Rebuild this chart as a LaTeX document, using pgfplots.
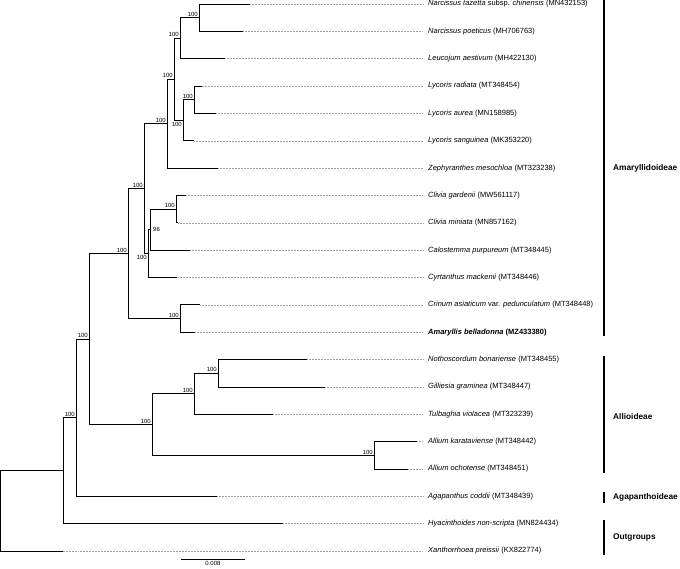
\documentclass[border=0pt]{standalone}
\usepackage{fontspec}
\setmainfont{Liberation Sans}
\usepackage{pgfplots}
\pgfplotsset{compat=1.18}
\begin{document}
\begin{tikzpicture}
\pgfplotsset{tree/.style={black, line width=0.8pt, line join=miter, mark=none},
  dots/.style={gray!75, line width=0.45pt, dash pattern=on 0.6pt off 0.9pt, mark=none},
  clade/.style={black, line width=1.3pt, mark=none}}
\begin{axis}[scale only axis, width=680pt, height=568pt,
  xmin=0, xmax=0.085, ymin=0.8537, ymax=21.622, y dir=reverse,
  hide axis, clip=false]
% ---- tree (each internal node: child1 -- node -- node -- child2)
\addplot[tree] coordinates {(0.03125,1) (0.024875,1) (0.024875,2) (0.030375,2)};          % Narcissus
\addplot[tree] coordinates {(0.024875,1.5) (0.0225,1.5) (0.0225,3) (0.028125,3)};        % + Leucojum
\addplot[tree] coordinates {(0.0252,4) (0.02425,4) (0.02425,5) (0.027,5)};               % radiata+aurea
\addplot[tree] coordinates {(0.02425,4.5) (0.022875,4.5) (0.022875,6) (0.02425,6)};      % + sanguinea
\addplot[tree] coordinates {(0.0225,2.25) (0.02175,2.25) (0.02175,5.25) (0.022875,5.25)};
\addplot[tree] coordinates {(0.02175,3.75) (0.020875,3.75) (0.020875,7) (0.02725,7)};    % + Zephyranthes
\addplot[tree] coordinates {(0.02325,8) (0.022,8) (0.022,9) (0.0223,9)};                 % Clivia
\addplot[tree] coordinates {(0.022,8.5) (0.01875,8.5) (0.01875,10) (0.02375,10)};        % + Calostemma
\addplot[tree] coordinates {(0.01875,9.25) (0.0185,9.25) (0.0185,11) (0.0221,11)};       % + Cyrtanthus
\addplot[tree] coordinates {(0.020875,5.375) (0.018,5.375) (0.018,10.125) (0.0185,10.125)};
\addplot[tree] coordinates {(0.025,12) (0.0225,12) (0.0225,13) (0.0244,13)};             % Crinum+Amaryllis
\addplot[tree] coordinates {(0.018,7.75) (0.016,7.75) (0.016,12.5) (0.0225,12.5)};
\addplot[tree] coordinates {(0.038375,14) (0.02725,14) (0.02725,15) (0.040625,15)};      % Noth+Gill
\addplot[tree] coordinates {(0.02725,14.5) (0.02425,14.5) (0.02425,16) (0.034125,16)};   % + Tulbaghia
\addplot[tree] coordinates {(0.052125,17) (0.04675,17) (0.04675,18) (0.051,18)};         % Allium
\addplot[tree] coordinates {(0.02425,15.25) (0.019,15.25) (0.019,17.5) (0.04675,17.5)};
\addplot[tree] coordinates {(0.016,10.125) (0.011125,10.125) (0.011125,16.375) (0.019,16.375)};
\addplot[tree] coordinates {(0.011125,13.25) (0.0095,13.25) (0.0095,19) (0.027125,19)};  % + Agapanthus
\addplot[tree] coordinates {(0.0095,16.125) (0.007875,16.125) (0.007875,20) (0.035375,20)}; % + Hyacinthoides
\addplot[tree] coordinates {(0.007875,18.0625) (0,18.0625) (0,21) (0.007875,21)};        % root + Xanthorrhoea
% ---- dotted leaders
\addplot[dots] coordinates {(0.03125,1) (0.052875,1)};
\addplot[dots] coordinates {(0.030375,2) (0.052875,2)};
\addplot[dots] coordinates {(0.028125,3) (0.052875,3)};
\addplot[dots] coordinates {(0.0252,4) (0.052875,4)};
\addplot[dots] coordinates {(0.027,5) (0.052875,5)};
\addplot[dots] coordinates {(0.02425,6) (0.052875,6)};
\addplot[dots] coordinates {(0.02725,7) (0.052875,7)};
\addplot[dots] coordinates {(0.02325,8) (0.052875,8)};
\addplot[dots] coordinates {(0.0223,9) (0.052875,9)};
\addplot[dots] coordinates {(0.02375,10) (0.052875,10)};
\addplot[dots] coordinates {(0.0221,11) (0.052875,11)};
\addplot[dots] coordinates {(0.025,12) (0.052875,12)};
\addplot[dots] coordinates {(0.0244,13) (0.052875,13)};
\addplot[dots] coordinates {(0.038375,14) (0.052875,14)};
\addplot[dots] coordinates {(0.040625,15) (0.052875,15)};
\addplot[dots] coordinates {(0.034125,16) (0.052875,16)};
\addplot[dots] coordinates {(0.052125,17) (0.052875,17)};
\addplot[dots] coordinates {(0.051,18) (0.052875,18)};
\addplot[dots] coordinates {(0.027125,19) (0.052875,19)};
\addplot[dots] coordinates {(0.035375,20) (0.052875,20)};
\addplot[dots] coordinates {(0.007875,21) (0.052875,21)};
% ---- clade bars
\addplot[clade] coordinates {(0.0755,0.86) (0.0755,13.14)};
\addplot[clade] coordinates {(0.0755,13.87) (0.0755,18.15)};
\addplot[clade] coordinates {(0.0755,18.84) (0.0755,19.24)};
\addplot[clade] coordinates {(0.0755,19.87) (0.0755,21.15)};
% ---- scale bar
\addplot[black, line width=0.8pt, mark=none] coordinates {(0.022625,21.29) (0.030625,21.29)};
% ---- taxon labels
\begin{scope}[every node/.style={anchor=west, inner sep=0pt, font=\fontsize{7.5}{9}\selectfont}]
\node at (axis cs:0.0535,1) {\textit{Narcissus tazetta} subsp. \textit{chinensis} (MN432153)};
\node at (axis cs:0.0535,2) {\textit{Narcissus poeticus} (MH706763)};
\node at (axis cs:0.0535,3) {\textit{Leucojum aestivum} (MH422130)};
\node at (axis cs:0.0535,4) {\textit{Lycoris radiata} (MT348454)};
\node at (axis cs:0.0535,5) {\textit{Lycoris aurea} (MN158985)};
\node at (axis cs:0.0535,6) {\textit{Lycoris sanguinea} (MK353220)};
\node at (axis cs:0.0535,7) {\textit{Zephyranthes mesochloa} (MT323238)};
\node at (axis cs:0.0535,8) {\textit{Clivia gardenii} (MW561117)};
\node at (axis cs:0.0535,9) {\textit{Clivia miniata} (MN857162)};
\node at (axis cs:0.0535,10) {\textit{Calostemma purpureum} (MT348445)};
\node at (axis cs:0.0535,11) {\textit{Cyrtanthus mackenii} (MT348446)};
\node at (axis cs:0.0535,12) {\textit{Crinum asiaticum} var. \textit{pedunculatum} (MT348448)};
\node at (axis cs:0.0535,13) {\textbf{\textit{Amaryllis belladonna} (MZ433380)}};
\node at (axis cs:0.0535,14) {\textit{Nothoscordum bonariense} (MT348455)};
\node at (axis cs:0.0535,15) {\textit{Gilliesia graminea} (MT348447)};
\node at (axis cs:0.0535,16) {\textit{Tulbaghia violacea} (MT323239)};
\node at (axis cs:0.0535,17) {\textit{Allium karataviense} (MT348442)};
\node at (axis cs:0.0535,18) {\textit{Allium ochotense} (MT348451)};
\node at (axis cs:0.0535,19) {\textit{Agapanthus coddii} (MT348439)};
\node at (axis cs:0.0535,20) {\textit{Hyacinthoides non-scripta} (MN824434)};
\node at (axis cs:0.0535,21) {\textit{Xanthorrhoea preissii} (KX822774)};
\end{scope}
% ---- clade labels
\begin{scope}[every node/.style={anchor=west, inner sep=0pt, font=\fontsize{8.3}{10}\selectfont\bfseries}]
\node at (axis cs:0.076625,7.0) {Amaryllidoideae};
\node at (axis cs:0.076625,16.1) {Allioideae};
\node at (axis cs:0.076625,19.03) {Agapanthoideae};
\node at (axis cs:0.076625,20.49) {Outgroups};
\end{scope}
% ---- bootstrap values
\begin{scope}[every node/.style={anchor=south east, inner sep=0pt, xshift=-1pt, yshift=1pt, font=\fontsize{6}{7}\selectfont}]
\node at (axis cs:0.024875,1.5) {100};
\node at (axis cs:0.0225,2.25) {100};
\node at (axis cs:0.02175,3.75) {100};
\node at (axis cs:0.02425,4.5) {100};
\node at (axis cs:0.020875,5.375) {100};
\node at (axis cs:0.018,7.75) {100};
\node at (axis cs:0.022,8.5) {100};
\node at (axis cs:0.016,10.125) {100};
\node at (axis cs:0.0225,12.5) {100};
\node at (axis cs:0.011125,13.25) {100};
\node at (axis cs:0.0095,16.125) {100};
\node at (axis cs:0.019,16.375) {100};
\node at (axis cs:0.02425,15.25) {100};
\node at (axis cs:0.02725,14.5) {100};
\node at (axis cs:0.04675,17.5) {100};
\end{scope}
\node[anchor=north east, inner sep=0pt, xshift=-1pt, yshift=-1.5pt, font=\fontsize{6}{7}\selectfont] at (axis cs:0.022875,5.25) {100};
\node[anchor=north east, inner sep=0pt, xshift=-1pt, yshift=-1.5pt, font=\fontsize{6}{7}\selectfont] at (axis cs:0.0185,10.125) {100};
\node[anchor=west, inner sep=0pt, xshift=3pt, font=\fontsize{6}{7}\selectfont] at (axis cs:0.01875,9.25) {96};
\node[anchor=north, inner sep=0pt, font=\fontsize{6}{7}\selectfont] at (axis cs:0.026625,21.37) {0.008};
\end{axis}
\pgfresetboundingbox
\useasboundingbox (current axis.south west) rectangle (current axis.north east);
\end{tikzpicture}
\end{document}
